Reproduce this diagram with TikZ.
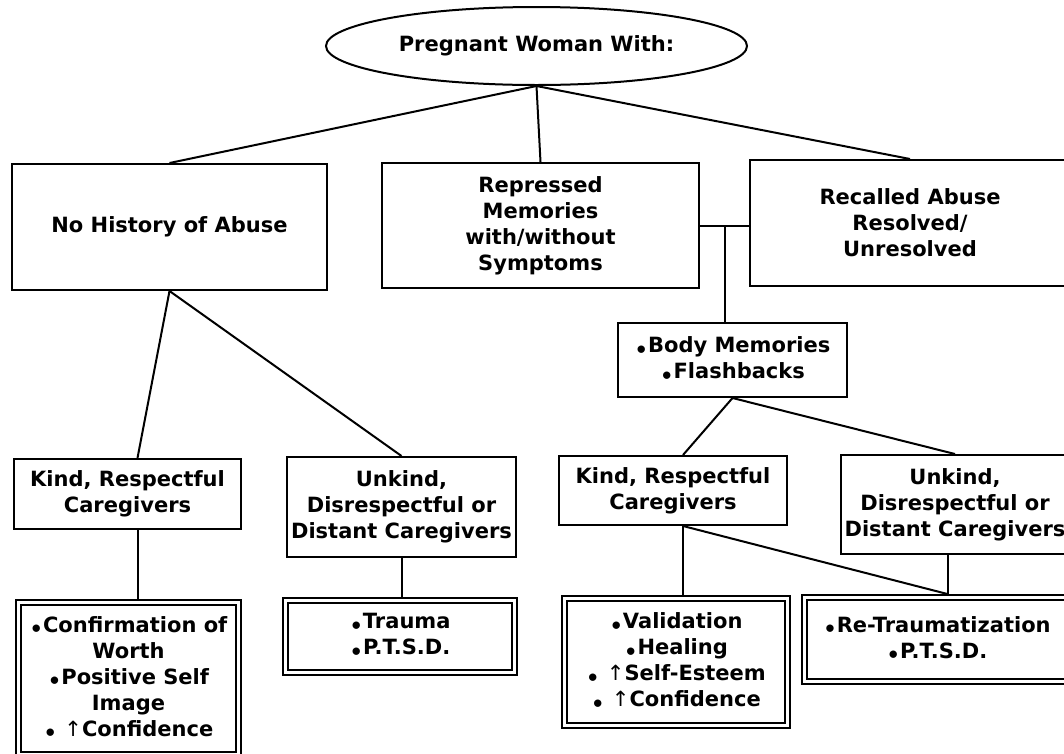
\documentclass[tikz,border=0pt]{standalone}
\usepackage{fontspec}
\setmainfont{DejaVu Sans}
\usetikzlibrary{shapes.geometric,calc}
\newcommand{\bdot}{\raisebox{-0.4ex}{•}}
\newcommand{\uarr}{{\mdseries ↑}}
\begin{document}
\begin{tikzpicture}[x=1pt,y=-1pt,
  every node/.style={font=\bfseries\fontsize{21}{26}\selectfont, align=center, inner sep=0pt},
  box/.style={draw, line width=2pt, rectangle},
  conn/.style={line width=2pt},
  dbl/.style={draw, line width=1.7pt, rectangle}
]
\useasboundingbox (0,0) rectangle (1064,753);

\node[ellipse, draw, line width=2pt, minimum width=421pt, minimum height=78pt] (ell) at (536.5,46) {Pregnant Woman With:};

\node[box, minimum width=315pt, minimum height=126pt] (nohist) at (169.5,227) {No History of Abuse};
\node[box, minimum width=317pt, minimum height=125pt] (repr) at (540.5,225.5) {Repressed\\Memories\\with/without\\Symptoms};
\node[box, minimum width=320pt, minimum height=126pt] (recall) at (910,223) {Recalled Abuse\\Resolved/\\Unresolved};

\node[box, minimum width=229pt, minimum height=74pt] (body) at (732.5,360) {\bdot Body Memories\\\bdot Flashbacks};

\node[box, minimum width=227pt, minimum height=70pt] (kind1) at (127.5,494) {Kind, Respectful\\Caregivers};
\node[box, minimum width=229pt, minimum height=100pt] (unkind1) at (401.5,507) {Unkind,\\Disrespectful or\\Distant Caregivers};
\node[box, minimum width=228pt, minimum height=69pt] (kind2) at (673,490.5) {Kind, Respectful\\Caregivers};
\node[box, minimum width=228pt, minimum height=99pt] (unkind2) at (955,504.5) {Unkind,\\Disrespectful or\\Distant Caregivers};

\node[dbl, minimum width=225pt, minimum height=157pt] (res1) at (128.5,678.5) {\bdot Confirmation of\\Worth\\\bdot Positive Self\\Image\\\bdot\ \uarr Confidence};
\node[dbl, minimum width=234pt, minimum height=77pt] (res2) at (400,636.5) {\bdot Trauma\\\bdot P.T.S.D.};
\node[dbl, minimum width=228pt, minimum height=132pt] (res3) at (676,662) {\bdot Validation\\\bdot Healing\\\bdot\ \uarr Self-Esteem\\\bdot\ \uarr Confidence};
\node[dbl, minimum width=270pt, minimum height=89pt] (res4) at (937,639.5) {\bdot Re-Traumatization\\\bdot P.T.S.D.};

\foreach \n in {res1,res2,res3,res4}
  \draw[line width=1.5pt] ([shift={(6,6)}]\n.north west) rectangle ([shift={(-6,-6)}]\n.south east);

% connectors
\draw[conn] (ell.south) -- (nohist.north);
\draw[conn] (ell.south) -- (repr.north);
\draw[conn] (ell.south) -- (recall.north);
\draw[conn] (repr.east) -- (repr.east -| recall.west);
\coordinate (j) at ($(repr.east)!0.5!(repr.east -| recall.west)$);
\draw[conn] (j) -- (j |- body.north);

\draw[conn] (nohist.south) -- ($(kind1.north)+(10,0)$);
\draw[conn] (nohist.south) -- (unkind1.north);
\draw[conn] (body.south) -- ($(kind2.north)+(10,0)$);
\draw[conn] (body.south) -- (unkind2.north);

\coordinate (k1) at ($(kind1.south)+(10,0)$);
\draw[conn] (k1) -- (k1 |- res1.north);
\draw[conn] (unkind1.south) -- (unkind1.south |- res2.north);
\coordinate (k2) at ($(kind2.south)+(10,0)$);
\draw[conn] (k2) -- (k2 |- res3.north);
\coordinate (u2) at ($(unkind2.south)+(-7,0)$);
\draw[conn] (u2) -- (u2 |- res4.north);
\draw[conn] (k2) -- (u2 |- res4.north);
\end{tikzpicture}
\end{document}
